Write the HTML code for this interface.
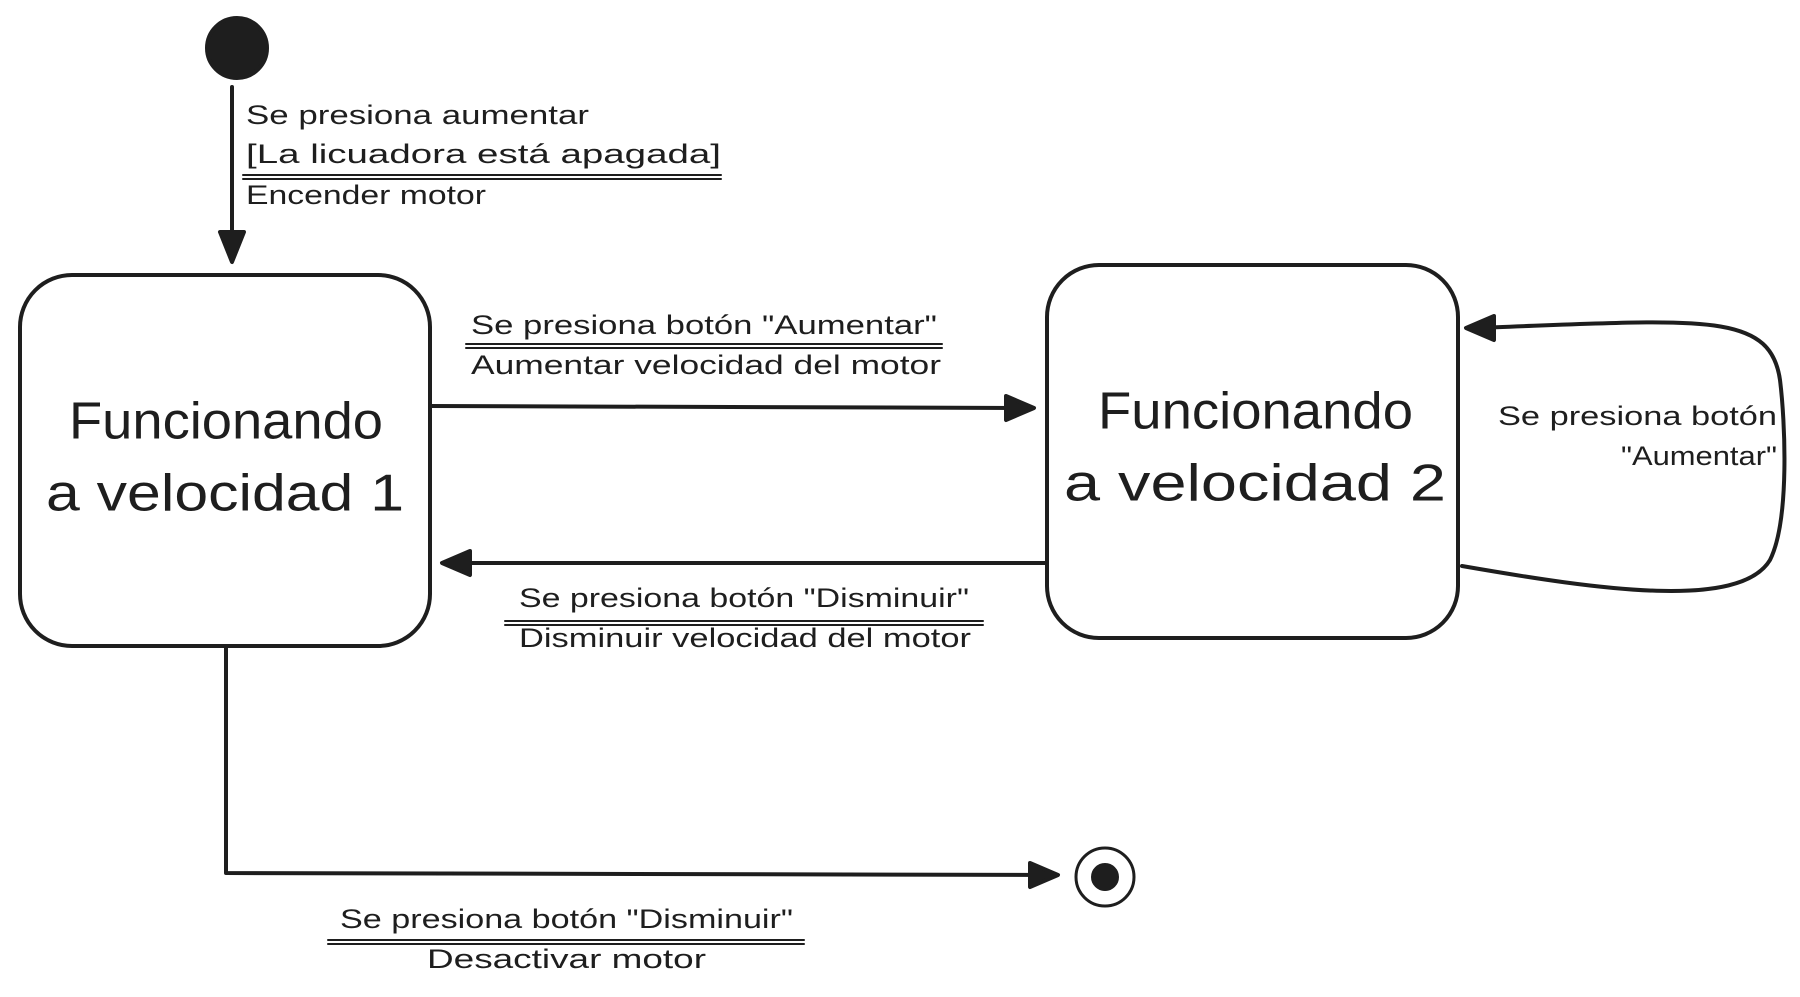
<!DOCTYPE html>
<html><head><meta charset="utf-8"><style>
html,body{margin:0;padding:0;background:#fff;}
svg{display:block;}
text{font-family:"Liberation Sans",sans-serif;fill:#1e1e1e;dominant-baseline:middle;}
</style></head><body>
<svg width="1800" height="997" viewBox="0 0 1800 997" xmlns="http://www.w3.org/2000/svg">
<g stroke="#1e1e1e" stroke-width="4" fill="none" stroke-linecap="round" stroke-linejoin="round">
<circle cx="237" cy="48" r="30" fill="#1e1e1e"/>
<line x1="232" y1="87" x2="232" y2="258"/>
<polygon points="220,232 244,232 232,262" fill="#1e1e1e"/>
<rect x="20" y="275" width="410" height="371" rx="52"/>
<rect x="1047" y="265" width="411" height="373" rx="52"/>
<line x1="430" y1="406" x2="1028" y2="408"/>
<polygon points="1006,396 1034,408 1006,420" fill="#1e1e1e"/>
<line x1="1047" y1="563" x2="448" y2="563"/>
<polygon points="470,551 442,563 470,575" fill="#1e1e1e"/>
<path d="M1462 566 C1600 590 1740 610 1770 560 C1790 520 1785 420 1780 380 C1770 310 1700 320 1474 328"/>
<polygon points="1494,316 1466,328 1494,340" fill="#1e1e1e"/>
<path d="M226 646 L226 873 L1052 875"/>
<polygon points="1030,863 1058,875 1030,887" fill="#1e1e1e"/>
<circle cx="1105" cy="877" r="29" stroke-width="3"/>
<circle cx="1105" cy="877" r="12" fill="#1e1e1e"/>
<g stroke-width="2">
<line x1="243" y1="175" x2="721" y2="175"/><line x1="243" y1="179" x2="721" y2="179"/>
<line x1="466" y1="344" x2="942" y2="344"/><line x1="466" y1="348" x2="942" y2="348"/>
<line x1="505" y1="621" x2="983" y2="621"/><line x1="505" y1="625" x2="983" y2="625"/>
<line x1="328" y1="940" x2="804" y2="940"/><line x1="328" y1="944" x2="804" y2="944"/>
</g>
</g>
<g font-size="27" lengthAdjust="spacingAndGlyphs">
<text x="246" y="117" textLength="343" lengthAdjust="spacingAndGlyphs">Se presiona aumentar</text>
<text x="246" y="156" textLength="475" lengthAdjust="spacingAndGlyphs">[La licuadora está apagada]</text>
<text x="246" y="197" textLength="240" lengthAdjust="spacingAndGlyphs">Encender motor</text>
<text x="471" y="327" textLength="466" lengthAdjust="spacingAndGlyphs">Se presiona botón "Aumentar"</text>
<text x="471" y="367" textLength="470" lengthAdjust="spacingAndGlyphs">Aumentar velocidad del motor</text>
<text x="519" y="600" textLength="450" lengthAdjust="spacingAndGlyphs">Se presiona botón "Disminuir"</text>
<text x="519" y="640" textLength="452" lengthAdjust="spacingAndGlyphs">Disminuir velocidad del motor</text>
<text x="1498" y="418" textLength="279" lengthAdjust="spacingAndGlyphs">Se presiona botón</text>
<text x="1621" y="458" textLength="156" lengthAdjust="spacingAndGlyphs">"Aumentar"</text>
<text x="340" y="921" textLength="453" lengthAdjust="spacingAndGlyphs">Se presiona botón "Disminuir"</text>
<text x="427" y="961" textLength="279" lengthAdjust="spacingAndGlyphs">Desactivar motor</text>
</g>
<g font-size="52">
<text x="69" y="425" textLength="314" lengthAdjust="spacingAndGlyphs">Funcionando</text>
<text x="46" y="497" textLength="358" lengthAdjust="spacingAndGlyphs">a velocidad 1</text>
<text x="1098" y="415" textLength="315" lengthAdjust="spacingAndGlyphs">Funcionando</text>
<text x="1064" y="487" textLength="382" lengthAdjust="spacingAndGlyphs">a velocidad 2</text>
</g>
</svg>
</body></html>
